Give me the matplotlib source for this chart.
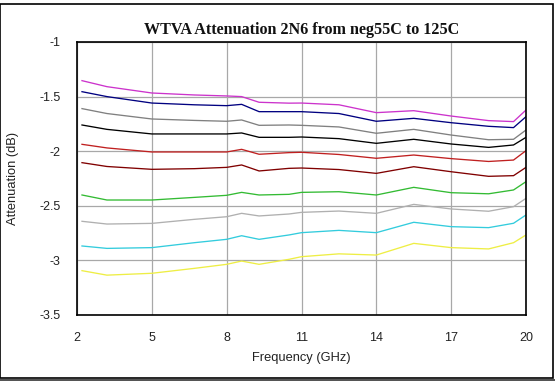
import matplotlib
matplotlib.use("Agg")
import matplotlib.pyplot as plt
from matplotlib.patches import Rectangle

freq = [2.2, 3.2, 5.0, 6.7, 8.0, 8.6, 9.3, 10.5, 11.0, 12.5, 14.0, 15.5, 17.0, 18.5, 19.5, 20.0]

s_magenta = [-1.354, -1.409, -1.467, -1.485, -1.494, -1.500, -1.552, -1.560, -1.559, -1.575, -1.647, -1.629, -1.678, -1.720, -1.729, -1.623]
s_blue = [-1.455, -1.500, -1.559, -1.575, -1.583, -1.571, -1.638, -1.638, -1.638, -1.655, -1.726, -1.699, -1.739, -1.772, -1.784, -1.684]
s_gray = [-1.610, -1.655, -1.705, -1.718, -1.726, -1.714, -1.763, -1.760, -1.763, -1.778, -1.836, -1.800, -1.852, -1.895, -1.891, -1.806]
s_black = [-1.760, -1.800, -1.842, -1.842, -1.842, -1.833, -1.873, -1.873, -1.870, -1.885, -1.928, -1.891, -1.934, -1.965, -1.943, -1.873]
s_red = [-1.937, -1.970, -2.007, -2.007, -2.007, -1.983, -2.028, -2.013, -2.010, -2.030, -2.065, -2.035, -2.068, -2.094, -2.081, -1.995]
s_maroon = [-2.105, -2.140, -2.166, -2.160, -2.148, -2.126, -2.181, -2.157, -2.154, -2.168, -2.203, -2.142, -2.188, -2.230, -2.224, -2.148]
s_green = [-2.401, -2.447, -2.447, -2.423, -2.404, -2.377, -2.401, -2.395, -2.377, -2.371, -2.401, -2.331, -2.380, -2.390, -2.355, -2.279]
s_lightgray = [-2.642, -2.667, -2.661, -2.624, -2.600, -2.569, -2.593, -2.575, -2.560, -2.548, -2.569, -2.487, -2.529, -2.550, -2.508, -2.432]
s_cyan = [-2.868, -2.890, -2.883, -2.838, -2.807, -2.774, -2.807, -2.767, -2.746, -2.725, -2.746, -2.651, -2.691, -2.700, -2.660, -2.584]
s_yellow = [-3.094, -3.135, -3.118, -3.073, -3.036, -3.006, -3.036, -2.990, -2.966, -2.940, -2.951, -2.844, -2.883, -2.895, -2.838, -2.767]

series = [s_magenta, s_blue, s_gray, s_black, s_red, s_maroon, s_green, s_lightgray, s_cyan, s_yellow]
colors = ["#CC33CC", "#000080", "#808080", "#000000", "#C02020", "#800000",
          "#33BB33", "#B0B0B0", "#33CCDD", "#EEEE44"]

xticks = [2, 5, 8, 11, 14, 17, 20]
yticks = [-1, -1.5, -2, -2.5, -3, -3.5]
ytick_labels = ["-1", "-1.5", "-2", "-2.5", "-3", "-3.5"]

W, H = 555, 381
fig = plt.figure(figsize=(W / 100, H / 100), dpi=100)
fig.patch.set_facecolor("white")

ax = fig.add_axes([77 / W, 1 - 315 / H, (526 - 77) / W, (315 - 42) / H])
for s, c in zip(series, colors):
    ax.plot(freq, s, color=c, lw=0.95)

ax.set_xlim(2, 20)
ax.set_ylim(-3.5, -1)
ax.set_xticks(xticks)
ax.set_xticklabels([str(t) for t in xticks])
ax.set_yticks(yticks)
ax.set_yticklabels(ytick_labels)
ax.grid(True, color="#A8A8A8", lw=0.9)
ax.set_axisbelow(True)
ax.tick_params(length=0, pad=12, labelsize=9, colors="#222222")
for lab in ax.get_xticklabels() + ax.get_yticklabels():
    lab.set_fontfamily("Liberation Sans")
for sp in ax.spines.values():
    sp.set_color("black")
    sp.set_linewidth(1.2)

ax.set_xlabel("Frequency (GHz)", fontsize=9.3, family="Liberation Sans", color="#222222", labelpad=6)
fig.text(13 / W, 1 - 178 / H, "Attenuation (dB)", rotation=90, ha="center", va="center",
         fontsize=9.3, family="Liberation Sans", color="#222222")

fig.text(302 / W, 1 - 30 / H, "WTVA Attenuation 2N6 from neg55C to 125C", ha="center", va="center",
         fontsize=11.6, family="Liberation Serif", fontweight="bold", color="#111111")

# outer frame
fig.patches.append(Rectangle((0, 3 / H), 553 / W, (378 - 4) / H, transform=fig.transFigure,
                             fill=False, edgecolor="black", lw=1.2))
fig.patches.append(Rectangle((0, 0), 1, 2.5 / H, transform=fig.transFigure,
                             facecolor="#555555", edgecolor="none"))

fig.savefig("out.png", dpi=100)
